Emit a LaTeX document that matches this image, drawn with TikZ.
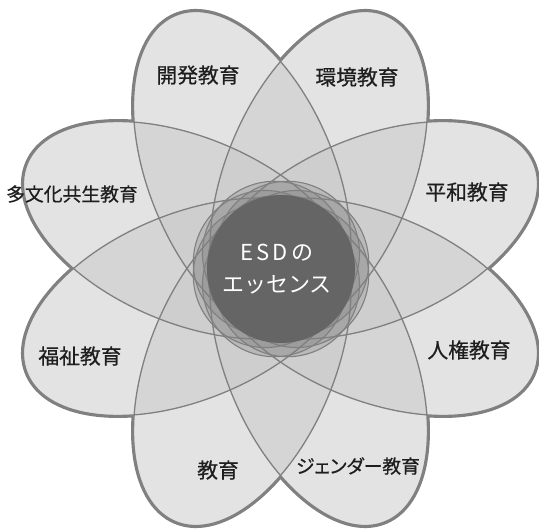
\documentclass[tikz,border=0pt]{standalone}
\usepackage{fontspec}
\newfontfamily\jp{Noto Sans CJK JP}
\newfontfamily\jpb[FakeBold=0.6]{Noto Sans CJK JP}
\newfontfamily\jpp[FakeBold=0.6,RawFeature=+palt]{Noto Sans CJK JP}
\definecolor{outl}{HTML}{808080}
\definecolor{petalc}{HTML}{C8C8C8}
\definecolor{corec}{HTML}{656565}
\definecolor{txtc}{HTML}{1E1E1E}
\tikzset{
  petalpath/.style={shift={(280.5,268.5)}, rotate=#1},
  lbl/.style={font=\jpb\fontsize{20.8pt}{24pt}\selectfont, text=txtc, inner sep=0pt},
  lblsmall/.style={font=\jpb\fontsize{18.8pt}{22pt}\selectfont, text=txtc, inner sep=0pt},
  lblprop/.style={font=\jpp\fontsize{18.8pt}{22pt}\selectfont, text=txtc, inner sep=0pt},
  coretext/.style={font=\jp\fontsize{22pt}{26pt}\selectfont, text=white, inner sep=0pt}
}
\begin{document}
\begin{tikzpicture}[x=1pt,y=-1pt]
\useasboundingbox (0,0) rectangle (539,532);
% thick outer outline
\foreach \a in {22.5,67.5,...,337.5}
  \draw[draw=outl, line width=5pt, petalpath=\a] (100pt,0pt) ellipse [x radius=174pt, y radius=93pt];
% opaque white fills to hide inner parts of thick strokes
\foreach \a in {22.5,67.5,...,337.5}
  \fill[white, petalpath=\a] (100pt,0pt) ellipse [x radius=174pt, y radius=93pt];
% translucent petal fills
\foreach \a in {22.5,67.5,...,337.5}
  \fill[petalc, fill opacity=0.5, petalpath=\a] (100pt,0pt) ellipse [x radius=174pt, y radius=93pt];
% thin inner outlines
\foreach \a in {22.5,67.5,...,337.5}
  \draw[draw=outl, line width=1.3pt, petalpath=\a] (100pt,0pt) ellipse [x radius=174pt, y radius=93pt];
% ring of small circles around the core
\foreach \a in {22.5,67.5,...,337.5}
  \draw[draw=outl, line width=1.1pt, fill=black!50, fill opacity=0.26, shift={(281,269)}, rotate=\a] (17pt,0pt) circle [radius=72pt];
% core
\fill[corec] (281,269) circle [radius=74pt];
\node[coretext] (esd) at (277,253) {E\kern3pt S\kern3pt D\kern3pt の};
\node[coretext] (essence) at (277,285) {エッセンス};
% labels
\node[lbl] (kaihatsu) at (198,75) {開発教育};
\node[lbl] (kankyo) at (357,77) {環境教育};
\node[lbl] (heiwa) at (467,192) {平和教育};
\node[lbl] (jinken) at (469,350) {人権教育};
\node[lblprop] (gender) at (358,466) {ジェンダー教育};
\node[lbl] (kyoiku) at (218,470) {教育};
\node[lbl] (fukushi) at (80,356) {福祉教育};
\node[lblsmall] (tabunka) at (72,194) {多文化共生教育};
\end{tikzpicture}
\end{document}
